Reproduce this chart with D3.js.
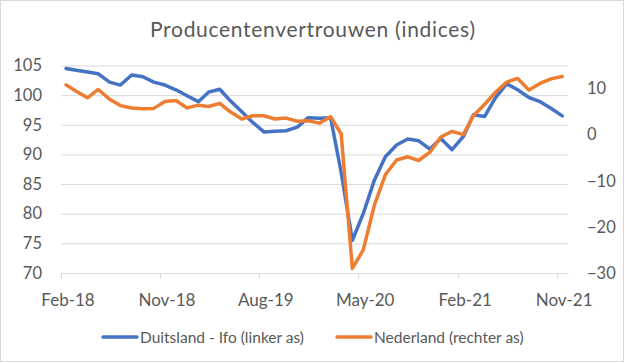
<!DOCTYPE html>
<html>
<head>
<meta charset="utf-8">
<script src="https://cdn.jsdelivr.net/npm/d3@7"></script>
<style>
  html, body { margin: 0; padding: 0; background: #fff; }
  svg { display: block; font-family: Lato, "Open Sans", sans-serif; }
</style>
</head>
<body>
<div id="chart"></div>
<script>
// maanden (data staat midden in de maand)
const maanden = [
  "2018-02","2018-03","2018-04","2018-05","2018-06","2018-07","2018-08","2018-09","2018-10","2018-11","2018-12",
  "2019-01","2019-02","2019-03","2019-04","2019-05","2019-06","2019-07","2019-08","2019-09","2019-10","2019-11","2019-12",
  "2020-01","2020-02","2020-03","2020-04","2020-05","2020-06","2020-07","2020-08","2020-09","2020-10","2020-11","2020-12",
  "2021-01","2021-02","2021-03","2021-04","2021-05","2021-06","2021-07","2021-08","2021-09","2021-10","2021-11"
];

// Duitsland - Ifo (linker as)
const duitsland = [
  104.5, 104.2, 103.9, 103.6, 102.2, 101.7, 103.4, 103.1, 102.2, 101.7, 100.9,
  99.9, 98.9, 100.5, 101.0, 99.0, 97.2, 95.4, 93.8, 93.9, 94.0, 94.6, 96.2,
  96.1, 96.2, 87.0, 75.5, 80.0, 85.7, 89.6, 91.6, 92.6, 92.3, 90.9, 92.7,
  90.8, 93.0, 96.7, 96.4, 99.6, 101.9, 100.9, 99.6, 98.9, 97.8, 96.5
];

// Nederland (rechter as)
const nederland = [
  10.8, 9.4, 8.0, 9.8, 7.7, 6.3, 5.8, 5.6, 5.7, 7.2, 7.4,
  5.8, 6.4, 6.1, 6.8, 4.9, 3.4, 4.1, 4.1, 3.4, 3.6, 2.9, 3.0,
  2.5, 3.9, 0.2, -29.0, -25.0, -15.2, -8.7, -5.5, -4.8, -5.6, -3.8, -0.5,
  0.7, 0.0, 4.1, 6.6, 9.2, 11.4, 12.2, 9.7, 11.1, 12.1, 12.6
];

const xTickLabels = ["Feb-18", "Nov-18", "Aug-19", "May-20", "Feb-21", "Nov-21"];
const linksTicks = [70, 75, 80, 85, 90, 95, 100, 105];
const rechtsTicks = [-30, -20, -10, 0, 10];
const linksDomein = [70, 105];
const rechtsDomein = [-30, 15];

const titel = "Producentenvertrouwen (indices)";
const legendaNamen = ["Duitsland - Ifo (linker as)", "Nederland (rechter as)"];
const kleuren = ["#4472C4", "#ED7D31"];

const width = 625, height = 363;
const plot = { left: 61, right: 568, top: 65.5, bottom: 273 };
const tekstKleur = "#595959";
const gridKleur = "#d9d9d9";

const parseMaand = d3.timeParse("%Y-%m");
const parseTick = d3.timeParse("%b-%y");
const fmtTick = d3.timeFormat("%b-%y");

// punt in het midden van de maand
const datums = maanden.map(m => d3.timeDay.offset(parseMaand(m), 14));
const tickDatums = xTickLabels.map(parseTick);

const x = d3.scaleTime()
  .domain([parseMaand("2018-02"), parseMaand("2021-12")])
  .range([plot.left, plot.right]);
const yL = d3.scaleLinear().domain(linksDomein).range([plot.bottom, plot.top]);
const yR = d3.scaleLinear().domain(rechtsDomein).range([plot.bottom, plot.top]);

const svg = d3.select("#chart").append("svg")
  .attr("width", width)
  .attr("height", height);

// rand om de grafiek
svg.append("rect")
  .attr("x", 0.5).attr("y", 0.5)
  .attr("width", width - 2).attr("height", height - 2)
  .attr("fill", "#fff")
  .attr("stroke", gridKleur);

// titel
svg.append("text")
  .attr("x", 312.5)
  .attr("y", 37)
  .attr("text-anchor", "middle")
  .attr("fill", tekstKleur)
  .attr("textLength", 325)
  .attr("lengthAdjust", "spacing")
  .style("font-size", "21px")
  .text(titel);

// rasterlijnen
const grid = svg.append("g")
  .attr("transform", `translate(${plot.left},0)`)
  .call(d3.axisLeft(yL).tickValues(linksTicks).tickSize(-(plot.right - plot.left)).tickFormat(""));
grid.select(".domain").remove();
grid.selectAll("line").attr("stroke", gridKleur).attr("stroke-width", 1);

// linker as
const asL = svg.append("g")
  .attr("transform", `translate(${plot.left},0)`)
  .call(d3.axisLeft(yL).tickValues(linksTicks).tickSize(0).tickPadding(19));
asL.select(".domain").remove();
asL.selectAll("text").attr("fill", tekstKleur).style("font-size", "16.5px").style("font-family", "Lato");

// rechter as
const asR = svg.append("g")
  .attr("transform", `translate(${plot.right},0)`)
  .call(d3.axisRight(yR).tickValues(rechtsTicks).tickSize(0).tickPadding(19));
asR.select(".domain").remove();
asR.selectAll("text").attr("fill", tekstKleur).style("font-size", "16.5px").style("font-family", "Lato");

// x-as
const asX = svg.append("g")
  .attr("transform", `translate(0,${plot.bottom})`)
  .call(d3.axisBottom(x).tickValues(tickDatums).tickFormat(fmtTick).tickSize(6).tickSizeOuter(0).tickPadding(15));
asX.select(".domain").attr("stroke", gridKleur);
asX.selectAll(".tick line").attr("stroke", gridKleur);
asX.selectAll("text")
  .attr("fill", tekstKleur)
  .attr("dx", 6.5)
  .style("font-size", "17px")
  .style("font-family", "Lato");

// lijnen
const lijnL = d3.line().x((d, i) => x(datums[i])).y(d => yL(d));
const lijnR = d3.line().x((d, i) => x(datums[i])).y(d => yR(d));

svg.append("path")
  .datum(duitsland)
  .attr("d", lijnL)
  .attr("fill", "none")
  .attr("stroke", kleuren[0])
  .attr("stroke-width", 3.5)
  .attr("stroke-linejoin", "round")
  .attr("stroke-linecap", "round");

svg.append("path")
  .datum(nederland)
  .attr("d", lijnR)
  .attr("fill", "none")
  .attr("stroke", kleuren[1])
  .attr("stroke-width", 3.5)
  .attr("stroke-linejoin", "round")
  .attr("stroke-linecap", "round");

// legenda
const legendaX = [103, 337];
const legenda = svg.append("g");
legendaNamen.forEach((naam, i) => {
  legenda.append("line")
    .attr("x1", legendaX[i]).attr("x2", legendaX[i] + 34)
    .attr("y1", 337).attr("y2", 337)
    .attr("stroke", kleuren[i])
    .attr("stroke-width", 3.5)
    .attr("stroke-linecap", "round");
  legenda.append("text")
    .attr("x", legendaX[i] + 37)
    .attr("y", 342.5)
    .attr("fill", tekstKleur)
    .style("font-size", "15.5px")
    .text(naam);
});
</script>
</body>
</html>
